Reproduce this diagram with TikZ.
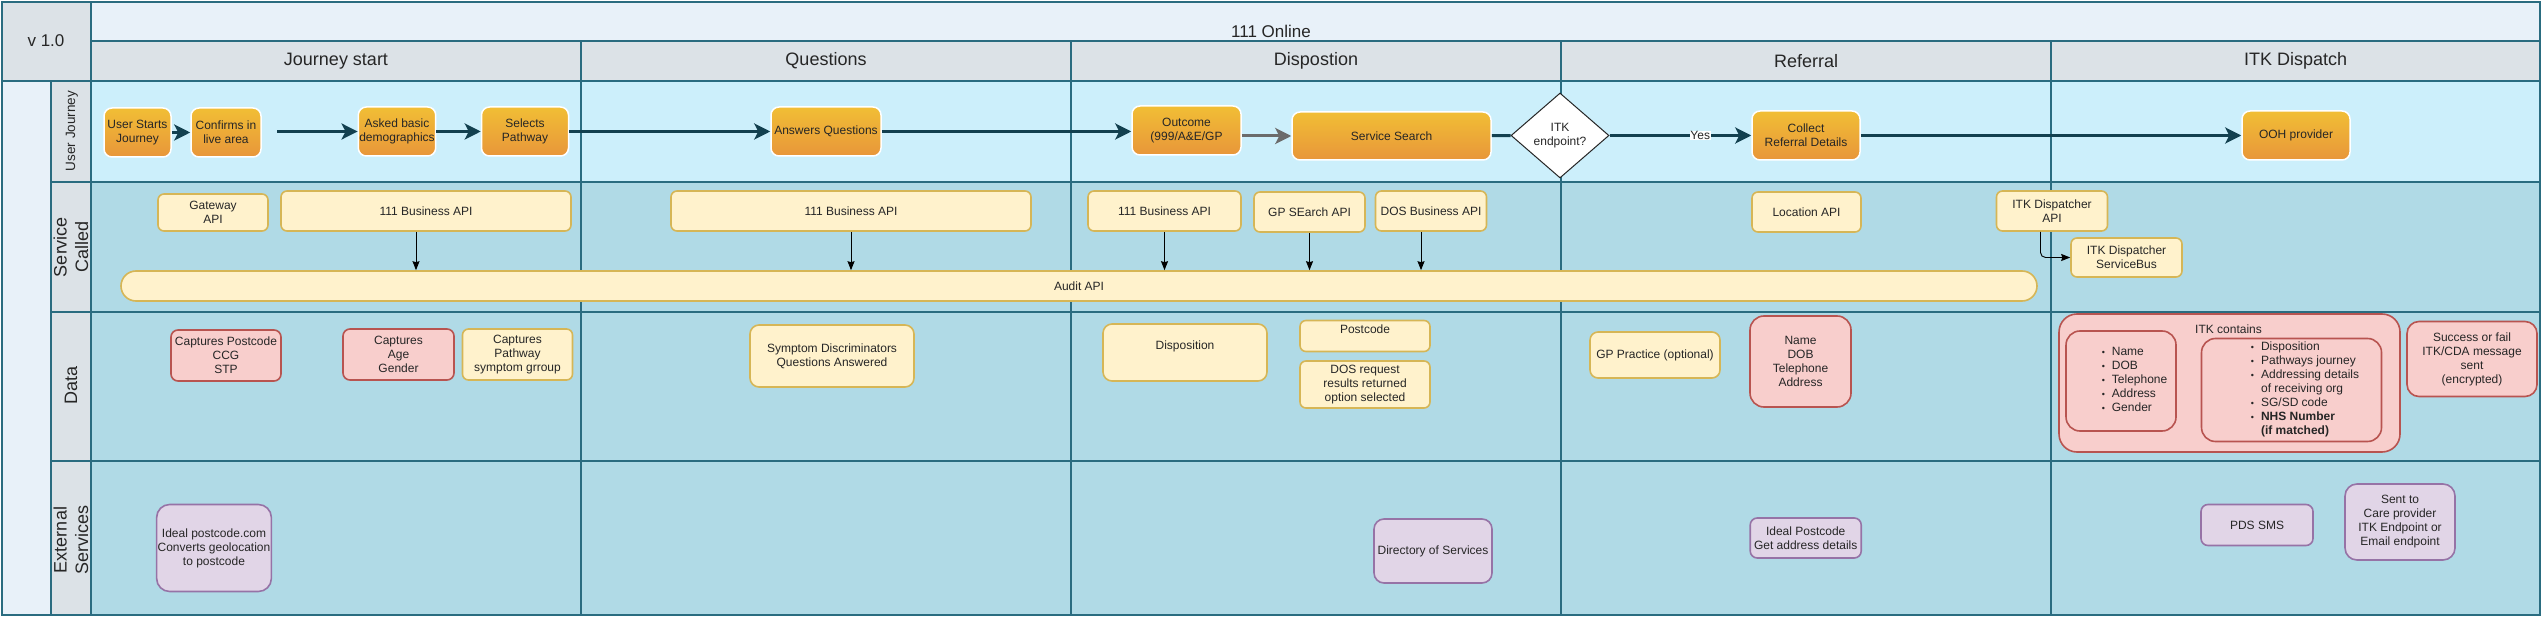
\documentclass[tikz,border=0pt]{standalone}
\usepackage{fontspec}
\setmainfont{Liberation Sans}
\usetikzlibrary{arrows.meta,shapes.geometric}
\definecolor{lineC}{HTML}{2A6C80}
\definecolor{titleBG}{HTML}{E8F1F9}
\definecolor{hdrBG}{HTML}{DCE2E7}
\definecolor{ujBG}{HTML}{CCEFFB}
\definecolor{laneBG}{HTML}{B0DAE6}
\definecolor{oraT}{HTML}{F1BE35}
\definecolor{oraB}{HTML}{E8963A}
\definecolor{yelF}{HTML}{FFF2CC}
\definecolor{yelD}{HTML}{D6B656}
\definecolor{redF}{HTML}{F8CECC}
\definecolor{redD}{HTML}{B85450}
\definecolor{purF}{HTML}{E1D5E7}
\definecolor{purD}{HTML}{9673A6}
\definecolor{flowC}{HTML}{12404F}
\definecolor{txt}{HTML}{262626}
\newcommand\fsN{\fontsize{12}{14}\selectfont}
\newcommand\fsT{\fontsize{17}{20}\selectfont}
\newcommand\fsH{\fontsize{18}{21}\selectfont}
\newcommand\fsU{\fontsize{13.5}{16}\selectfont}
\newcommand\fsL{\fontsize{18}{21.6}\selectfont}
\tikzset{
  sz/.style 2 args={minimum width=#1pt, minimum height=#2pt},
  base/.style={inner sep=1pt, align=center, font=\fsN, text=txt},
  orabox/.style={base, rounded corners=8pt, top color=oraT, bottom color=oraB, draw=white, line width=1.5pt},
  yelbox/.style={base, rounded corners=6pt, fill=yelF, draw=yelD, line width=1.6pt},
  redbox/.style={base, rounded corners=7pt, fill=redF, draw=redD, line width=1.6pt},
  purbox/.style={base, rounded corners=7pt, fill=purF, draw=purD, line width=1.6pt},
  grid/.style={draw=lineC, line width=2.2pt},
  flow/.style={draw=flowC, line width=3pt, -{Stealth[length=16pt,width=16pt,inset=4pt]}},
  flowgray/.style={draw=black!58, line width=3pt, -{Stealth[length=16pt,width=16pt,inset=4pt]}},
  flowline/.style={draw=flowC, line width=3pt},
  thinarr/.style={draw=black, line width=0.9pt, -{Stealth[length=9pt,width=7pt,inset=1pt]}},
  hdr/.style={font=\fsH, text=txt, inner sep=0pt},
  lanelbl/.style={rotate=90, text=txt, align=center, inner sep=0pt},
}
\begin{document}
\begin{tikzpicture}[x=1pt,y=-1pt]
\useasboundingbox (0,0) rectangle (2542,617);
% backgrounds
\fill[white] (0,0) rectangle (2542,617);
\fill[titleBG] (91,2) rectangle (2540,41);
\fill[hdrBG] (2,2) rectangle (91,81);
\fill[hdrBG] (91,41) rectangle (2540,81);
\fill[titleBG] (2,81) rectangle (51,615);
\fill[hdrBG] (51,81) rectangle (91,615);
\fill[ujBG] (91,81) rectangle (2540,182);
\fill[laneBG] (91,182) rectangle (2540,615);
% grid lines
\draw[grid] (2,2) rectangle (2540,615);
\draw[grid] (91,41) -- (2540,41);
\draw[grid] (2,81) -- (2540,81);
\draw[grid] (51,182) -- (2540,182);
\draw[grid] (51,312) -- (2540,312);
\draw[grid] (51,461) -- (2540,461);
\draw[grid] (91,2) -- (91,615);
\draw[grid] (51,81) -- (51,615);
\foreach \xx in {581,1071,1561,2051} \draw[grid] (\xx,41) -- (\xx,615);
% headers
\node[font=\fsT, text=txt] (title) at (1271,31) {111 Online};
\node[font=\fsT, text=txt] (ver) at (46,41) {v 1.0};
\node[hdr] (h1) at (336,61) {Journey start};
\node[hdr] (h2) at (826,61) {Questions};
\node[hdr] (h3) at (1316,61) {Dispostion};
\node[hdr] (h4) at (1806,61) {Referral};
\node[hdr] (h5) at (2295.5,61) {ITK Dispatch};
% lane labels
\node[lanelbl, font=\fsU] (l1) at (72,131) {User Journey};
\node[lanelbl, font=\fsL] (l2) at (71,247) {Service\\Called};
\node[lanelbl, font=\fsL] (l3) at (71,385) {Data};
\node[lanelbl, font=\fsL] (l4) at (71,540) {External\\Services};
% user journey
\node[orabox, sz={67}{49}] (us) at (137.5,132.5) {User Starts\\Journey};
\node[orabox, sz={70}{49}] (cf) at (226,132.5) {Confirms in\\live area};
\node[orabox, sz={72}{49}] (ab) at (397,131.5) {Asked basic\\demographics};
\node[orabox, sz={87}{49}] (sp) at (525,131.5) {Selects\\Pathway};
\node[orabox, sz={110}{49}] (aq) at (826,131.5) {Answers Questions};
\node[orabox, sz={109}{49}] (oc) at (1186.5,130.5) {Outcome\\(999/A\&E/GP};
\node[orabox, sz={199}{48}] (ss) at (1391.5,136) {Service Search};
\node[diamond, draw=black!85, fill=white, line width=1pt, inner sep=0pt, aspect=1.15, sz={98}{85}, align=center, font=\fsN, text=txt] (itk) at (1560,135.5) {ITK\\endpoint?};
\node[orabox, sz={108}{49}] (cr) at (1806,135.5) {Collect\\Referral Details};
\node[orabox, sz={108}{49}] (ooh) at (2296,135.5) {OOH provider};
\coordinate (c1) at (277,131.5);
\draw[flow] (us) -- (cf);
\draw[flow] (c1) -- (ab);
\draw[flow] (ab) -- (sp);
\draw[flow] (sp) -- (aq);
\draw[flow] (aq) -- (aq -| oc.west);
\draw[flowgray] (oc.east |- ss) -- (ss.west);
\draw[flowline] (ss) -- (itk);
\draw[flow] (itk) -- node[pos=0.64, fill=white, inner sep=0.5pt, font=\fsN, text=txt] {Yes} (cr);
\draw[flow] (cr) -- (ooh);
% service called
\node[yelbox, rounded corners=15pt, sz={1916}{30}] (audit) at (1079,286) {Audit API};
\node[yelbox, sz={110}{37}] (gw) at (213,212.5) {Gateway\\API};
\node[yelbox, sz={290}{40}] (b1) at (426,211) {111 Business API};
\node[yelbox, sz={360}{40}] (b2) at (851,211) {111 Business API};
\node[yelbox, sz={153}{40}] (b3) at (1164.5,211) {111 Business API};
\node[yelbox, sz={111}{40}] (gps) at (1309.5,212) {GP SEarch API};
\node[yelbox, sz={111}{40}] (dos) at (1431,211) {DOS Business API};
\node[yelbox, sz={109}{40}] (loc) at (1806.5,212) {Location API};
\node[yelbox, sz={111}{40}] (itkd) at (2052,211) {ITK Dispatcher\\API};
\node[yelbox, sz={111}{39}] (itkb) at (2126.5,257.5) {ITK Dispatcher\\ServiceBus};
\draw[thinarr] ([xshift=-10pt]b1.south) -- ([xshift=-10pt]b1.south |- audit.north);
\draw[thinarr] (b2.south) -- (b2.south |- audit.north);
\draw[thinarr] (b3.south) -- (b3.south |- audit.north);
\draw[thinarr] (gps.south) -- (gps.south |- audit.north);
\draw[thinarr] ([xshift=-10pt]dos.south) -- ([xshift=-10pt]dos.south |- audit.north);
\draw[thinarr, rounded corners=5pt] ([xshift=-11.5pt]itkd.south) |- (itkb.west);
% data
\node[redbox, sz={110}{51}] (d1) at (226,355.5) {Captures Postcode\\CCG\\STP};
\node[redbox, sz={111}{51}] (d2) at (398.5,354.5) {Captures\\Age\\Gender};
\node[yelbox, sz={110}{51}] (d3) at (517.5,354.5) {Captures\\Pathway\\symptom grroup};
\node[yelbox, rounded corners=9pt, sz={164}{62}] (d4) at (832,356) {Symptom Discriminators\\Questions Answered};
\node[yelbox, rounded corners=9pt, sz={164}{57}] (d5) at (1185,352.5) {Disposition\\\mbox{}};
\node[yelbox, sz={130}{31}] (d6) at (1365,336) {Postcode\\\mbox{}};
\node[yelbox, sz={130}{47}] (d7) at (1365,384.5) {DOS request\\results returned\\option selected};
\node[yelbox, rounded corners=8pt, sz={130}{46}] (d8) at (1655,355) {GP Practice (optional)};
\node[redbox, rounded corners=14pt, sz={101}{91}] (d9) at (1800.5,361.5) {Name\\DOB\\Telephone\\Address};
\node[redbox, rounded corners=18pt, sz={341}{138}] (itkc) at (2229.5,383) {};
\node[base] (itkct) at (2228.5,329) {ITK contains};
\node[redbox, rounded corners=14pt, sz={110}{100}] (itkl) at (2121,381) {\hspace*{27pt}\begin{tabular}{@{}l@{\hspace{7pt}}l@{}}
{\fontsize{9}{14}\selectfont\textbullet} & Name\\
{\fontsize{9}{14}\selectfont\textbullet} & DOB\\
{\fontsize{9}{14}\selectfont\textbullet} & Telephone\\
{\fontsize{9}{14}\selectfont\textbullet} & Address\\
{\fontsize{9}{14}\selectfont\textbullet} & Gender
\end{tabular}};
\node[redbox, rounded corners=14pt, sz={180}{103}] (itkr) at (2291.5,390) {\hspace*{27pt}\begin{tabular}{@{}l@{\hspace{7pt}}l@{}}
{\fontsize{9}{14}\selectfont\textbullet} & Disposition\\
{\fontsize{9}{14}\selectfont\textbullet} & Pathways journey\\
{\fontsize{9}{14}\selectfont\textbullet} & Addressing details\\
 & of receiving org\\
{\fontsize{9}{14}\selectfont\textbullet} & SG/SD code\\
{\fontsize{9}{14}\selectfont\textbullet} & \textbf{NHS Number}\\
 & \textbf{(if matched)}
\end{tabular}};
\node[redbox, rounded corners=12pt, sz={130}{75}] (succ) at (2472,359) {Success or fail\\ITK/CDA message\\sent\\(encrypted)};
% external services
\node[purbox, rounded corners=13pt, sz={110}{87}] (e1) at (214,548) {Ideal postcode.com\\Converts geolocation\\to postcode};
\node[purbox, rounded corners=10pt, sz={118}{64}] (e2) at (1433,551) {Directory of Services};
\node[purbox, rounded corners=7pt, sz={111}{40}] (e3) at (1805.7,538) {Ideal Postcode\\Get address details};
\node[purbox, rounded corners=7pt, sz={112}{41}] (e4) at (2257,525) {PDS SMS};
\node[purbox, rounded corners=12pt, sz={110}{76}] (e5) at (2400,522) {Sent to\\Care provider\\ITK Endpoint or\\Email endpoint};
\end{tikzpicture}
\end{document}
